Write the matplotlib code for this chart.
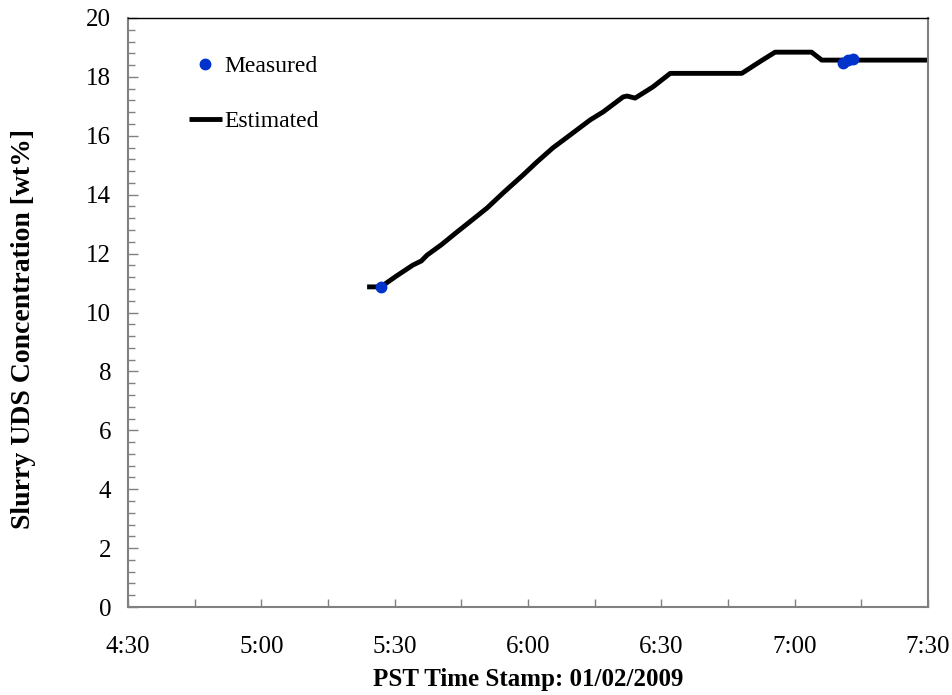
import matplotlib
matplotlib.use("Agg")
import matplotlib.pyplot as plt
from matplotlib.ticker import MultipleLocator, FuncFormatter

# times in minutes after midnight (PST), values in wt%
est_time = [323.8, 326.9, 330.5, 334.1, 336.0, 337.3, 340.5, 344.0, 347.5,
            350.8, 354.4, 358.9, 362.0, 365.6, 369.5, 374.0, 376.9, 381.4,
            382.3, 384.1, 388.1, 392.0, 408.1, 412.2, 415.6, 423.8, 426.1, 450.0]
est_val = [10.87, 10.87, 11.25, 11.61, 11.75, 11.95, 12.30, 12.73, 13.15,
           13.55, 14.06, 14.67, 15.11, 15.59, 16.03, 16.54, 16.81, 17.32,
           17.35, 17.28, 17.66, 18.12, 18.12, 18.52, 18.84, 18.84, 18.57, 18.57]

meas_time = [326.9, 430.9, 432.0, 433.1]
meas_val = [10.87, 18.46, 18.57, 18.60]

plt.rcParams['font.family'] = ['Liberation Serif', 'DejaVu Serif']

fig = plt.figure(figsize=(9.53, 6.95), dpi=100)
ax = fig.add_axes([128 / 953, 88 / 695, 800 / 953, 589 / 695])

ax.plot(meas_time, meas_val, 'o', color='#0033cc', markersize=7.5,
        label='Measured', zorder=3)
ax.plot(est_time, est_val, '-', color='black', linewidth=3.5,
        solid_capstyle='butt', label='Estimated', zorder=2)

ax.set_xlim(270, 450)
ax.set_ylim(0, 20)

ax.xaxis.set_major_locator(MultipleLocator(30))
ax.xaxis.set_minor_locator(MultipleLocator(15))
ax.xaxis.set_major_formatter(
    FuncFormatter(lambda v, p: f"{int(v) // 60}:{int(v) % 60:02d}"))
ax.yaxis.set_major_locator(MultipleLocator(2))
ax.yaxis.set_minor_locator(MultipleLocator(0.4))

ax.tick_params(axis='x', which='both', direction='in', length=6, width=1,
               color='#808080', labelsize=18, pad=21)
ax.tick_params(axis='y', which='major', direction='in', length=7, width=1,
               color='#808080', labelsize=18, pad=12)
ax.tick_params(axis='y', which='minor', direction='in', length=5, width=1,
               color='#808080')

for side in ['left', 'bottom', 'right']:
    ax.spines[side].set_color('#808080')
    ax.spines[side].set_linewidth(1.5)
ax.spines['top'].set_color('black')
ax.spines['top'].set_linewidth(1)

ax.set_xlabel('PST Time Stamp: 01/02/2009', fontsize=18, fontweight='bold',
              labelpad=7)
ax.set_ylabel('Slurry UDS Concentration [wt%]', fontsize=20,
              fontweight='bold', labelpad=36)
ax.yaxis.label.set_y(0.472)

ax.legend(loc='upper left', bbox_to_anchor=(0.076, 0.936), frameon=False,
          fontsize=17, handlelength=1.4, handletextpad=0.1,
          labelspacing=1.42, borderpad=0, borderaxespad=0)

fig.savefig('out.png', dpi=100)
